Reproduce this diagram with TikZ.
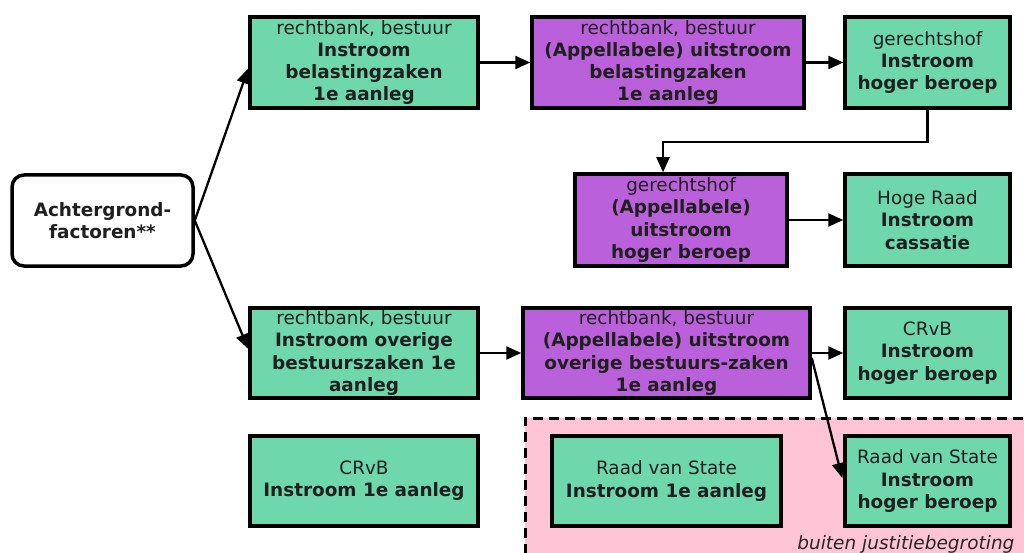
\documentclass[tikz,border=0pt]{standalone}
\usepackage{fontspec}
\setmainfont{DejaVu Sans}
\usetikzlibrary{arrows.meta,calc}
\definecolor{boxgreen}{RGB}{110,216,172}
\definecolor{boxpurple}{RGB}{186,96,218}
\definecolor{outpink}{RGB}{255,197,214}
\tikzset{
  box/.style={draw=black, line width=3.5pt, align=center, inner sep=0pt,
    font=\fontsize{18.4}{22.2}\selectfont, text=black!88},
  gbox/.style={box, fill=boxgreen},
  pbox/.style={box, fill=boxpurple},
  conn/.style={line width=2.3pt, -{Triangle[length=15pt,width=13pt]}},
}
\begin{document}
\begin{tikzpicture}[x=1pt,y=-1pt]
\useasboundingbox (0,0) rectangle (1024,553);
% outside-budget area
\fill[outpink] (525,418) rectangle (1040,570);
\draw[line width=3pt, dash pattern=on 10pt off 6pt] (525,570) -- (525,418) -- (1040,418);
\node[anchor=base east, font=\fontsize{18.5}{22}\selectfont\itshape, text=black!85] (lbl) at (1018,549) {buiten justitiebegroting};

\node[box, rounded corners=12pt, fill=white, minimum width=181pt, minimum height=91pt] (A) at (102.5,220.5) {\bfseries Achtergrond-\\\bfseries factoren**};

\node[gbox, minimum width=228pt, minimum height=91pt] (B1) at (364,62.5) {rechtbank, bestuur\\\textbf{Instroom}\\\textbf{belastingzaken}\\\textbf{1e aanleg}};
\node[pbox, minimum width=272pt, minimum height=91pt] (B2) at (668,62.5) {rechtbank, bestuur\\\textbf{(Appellabele) uitstroom}\\\textbf{belastingzaken}\\\textbf{1e aanleg}};
\node[gbox, minimum width=165pt, minimum height=91pt] (B3) at (927.5,62.5) {gerechtshof\\\textbf{Instroom}\\\textbf{hoger beroep}};

\node[pbox, minimum width=212pt, minimum height=92pt] (C1) at (681,220) {gerechtshof\\\textbf{(Appellabele)}\\\textbf{uitstroom}\\\textbf{hoger beroep}};
\node[gbox, minimum width=165pt, minimum height=92pt] (C2) at (927.5,220) {Hoge Raad\\\textbf{Instroom}\\\textbf{cassatie}};

\node[gbox, minimum width=228pt, minimum height=90pt] (D1) at (364,353) {rechtbank, bestuur\\\textbf{Instroom overige}\\\textbf{bestuurszaken 1e}\\\textbf{aanleg}};
\node[pbox, minimum width=287pt, minimum height=90pt] (D2) at (666.5,353) {rechtbank, bestuur\\\textbf{(Appellabele) uitstroom}\\\textbf{overige bestuurs-zaken}\\\textbf{1e aanleg}};
\node[gbox, minimum width=165pt, minimum height=90pt] (D3) at (927.5,353) {CRvB\\\textbf{Instroom}\\\textbf{hoger beroep}};

\node[gbox, minimum width=228pt, minimum height=90pt] (E1) at (364,481) {CRvB\\\textbf{Instroom 1e aanleg}};
\node[gbox, minimum width=229pt, minimum height=90pt] (E2) at (666.5,481) {Raad van State\\\textbf{Instroom 1e aanleg}};
\node[gbox, minimum width=165pt, minimum height=90pt] (E3) at (927.5,481) {Raad van State\\\textbf{Instroom}\\\textbf{hoger beroep}};

% connectors
\draw[conn] (A.east) -- ($(B1.west)+(0,6)$);
\draw[conn] (A.east) -- ($(D1.west)+(0,-4)$);
\draw[conn] (B1.east) -- (B2.west);
\draw[conn] (B2.east) -- (B3.west);
\draw[conn] (B3.south) -- ++(0,32) -| ($(C1.north)+(-18,0)$);
\draw[conn] (C1.east) -- (C2.west);
\draw[conn] (D1.east) -- (D2.west);
\draw[conn] (D2.east) -- (D3.west);
\draw[conn] ($(D2.east)+(0,5)$) -- ($(E3.west)+(-1,-3)$);
\end{tikzpicture}
\end{document}
